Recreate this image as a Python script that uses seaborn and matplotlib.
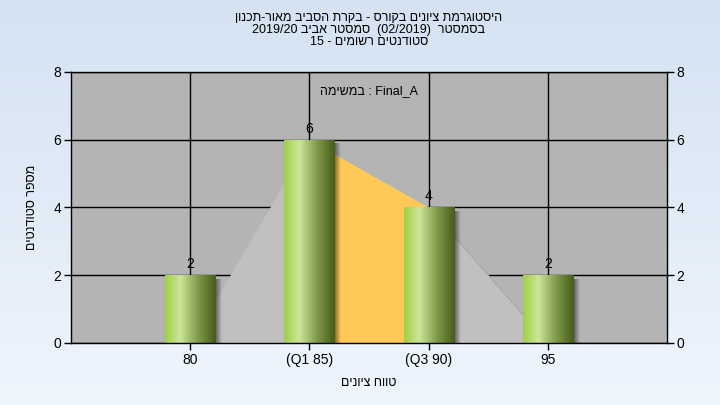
import re
import numpy as np
import matplotlib
matplotlib.use("Agg")
import matplotlib.pyplot as plt
from matplotlib.colors import LinearSegmentedColormap
import seaborn as sns

# data
grade_labels = ["80", "(Q1 85)", "(Q3 90)", "95"]
student_counts = [2, 6, 4, 2]
curve_values = [0, 6, 4, 0]
q1_index, q3_index = 1, 2
y_ticks = [0, 2, 4, 6, 8]

title_lines = [
    "היסטוגרמת ציונים בקורס - בקרת הסביב מאור-תכנון",
    "בסמסטר  (02/2019)  סמסטר אביב 2019/20",
    "סטודנטים רשומים - 15",
]
task_text = "Final_A : במשימה"
x_title = "טווח ציונים"
y_title = "מספר סטודנטים"

MIRROR = {"(": ")", ")": "("}


def visual(s):
    # crude right-to-left reordering: keep latin/digit runs, flip the rest
    tokens = re.findall(r"[A-Za-z0-9_/.]+|[^A-Za-z0-9_/.]", s)
    return "".join(MIRROR.get(t, t) for t in reversed(tokens))


sns.set_style("white")
plt.rcParams["font.family"] = ["Liberation Sans", "DejaVu Sans"]

fig = plt.figure(figsize=(7.2, 4.05), dpi=100)

# light blue figure gradient
bg = fig.add_axes([0, 0, 1, 1], zorder=-10)
bg_cmap = LinearSegmentedColormap.from_list("bg", ["#d4e2f2", "#eef5fd"])
bg.imshow(np.linspace(0, 1, 256).reshape(-1, 1), cmap=bg_cmap, aspect="auto",
          extent=[0, 1, 0, 1])
bg.axis("off")

ax = fig.add_axes([71 / 720, 62 / 405, 596 / 720, 271 / 405])
ax.set_facecolor("#b4b4b4")

positions = np.arange(len(grade_labels))

# distribution area and interquartile band
ax.fill_between(positions, curve_values, color="#c0c0c0", zorder=1, lw=0)
ax.plot(positions[2:], curve_values[2:], color="#a8a8a8", lw=0.8, zorder=1.05)
band = slice(q1_index, q3_index + 1)
ax.fill_between(positions[band], curve_values[band], color="#ffc957", zorder=1.1, lw=0)

sns.barplot(x=grade_labels, y=student_counts, order=grade_labels, color="#9ccc3c",
            width=0.42, ax=ax, zorder=2)

bar_cmap = LinearSegmentedColormap.from_list(
    "bar", [(0, "#a0d045"), (0.3, "#cde69a"), (0.65, "#7f9a4a"), (1, "#465c1c")])
grad = bar_cmap(np.linspace(0, 1, 256)).reshape(1, 256, 4)
shadow = np.zeros((1, 64, 4))
shadow[..., 3] = np.linspace(0.55, 0, 64)

for patch in ax.patches:
    x0, w, h = patch.get_x(), patch.get_width(), patch.get_height()
    patch.set_edgecolor("none")
    im = ax.imshow(grad, extent=[x0, x0 + w, 0, h], aspect="auto", zorder=2.1)
    im.set_clip_path(patch)
    ax.imshow(shadow, extent=[x0 + w, x0 + w + 0.055, 0, h - 0.12], aspect="auto",
              zorder=1.9)

for pos, val in zip(positions, student_counts):
    ax.text(pos, val + 0.12, str(val), ha="center", va="bottom", fontsize=10,
            color="black", zorder=3)

ax.text(0.5, 0.93, visual(task_text), transform=ax.transAxes, ha="center",
        va="center", fontsize=9, color="black", zorder=3)

ax.set_xlim(-1, len(grade_labels))
ax.set_ylim(0, 8)
ax.set_xticks(positions)
ax.set_xticklabels(grade_labels)
ax.set_yticks(y_ticks)
ax.set_axisbelow(True)
ax.grid(True, color="black", linewidth=1)
for sp in ax.spines.values():
    sp.set_visible(True)
    sp.set_color("black")
    sp.set_linewidth(1)
ax.tick_params(axis="both", direction="out", length=5, width=1, color="black",
               labelsize=10, labelcolor="black", pad=2)
ax.tick_params(axis="y", left=True, right=True, labelright=True)
ax.tick_params(axis="x", bottom=True)

ax.set_xlabel(visual(x_title), fontsize=9, color="black")
ax.xaxis.set_label_coords(0.5, -0.125)
ax.set_ylabel(visual(y_title), fontsize=9, color="black")
ax.yaxis.set_label_coords(-0.055, 0.5)

for i, line in enumerate(title_lines):
    fig.text(369 / 720, 1 - (18 + 12 * i) / 405, visual(line), ha="center",
             va="center", fontsize=9, color="black")

fig.savefig("out.png", dpi=100)
